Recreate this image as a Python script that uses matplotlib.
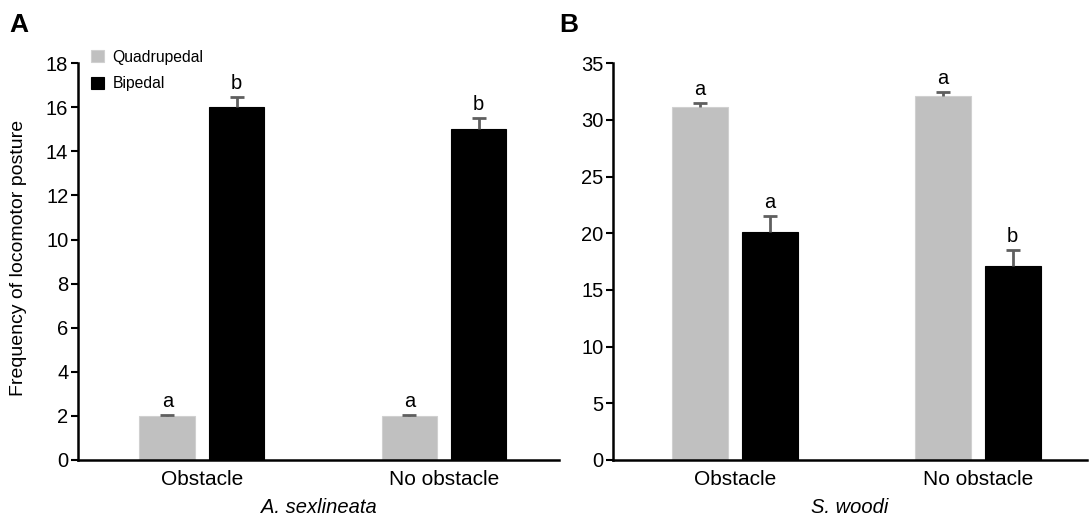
import numpy as np
import matplotlib
matplotlib.use("Agg")
import matplotlib.pyplot as plt

plt.rcParams['font.family'] = ['Liberation Sans', 'DejaVu Sans']

conditions = ["Obstacle", "No obstacle"]
postures = ["Quadrupedal", "Bipedal"]

# A. sexlineata
a_quad = [2.0, 2.0]
a_quad_err = [0.05, 0.05]
a_bip = [16.0, 15.0]
a_bip_err = [0.45, 0.5]
a_quad_letters = ["a", "a"]
a_bip_letters = ["b", "b"]

# S. woodi
s_quad = [31.1, 32.1]
s_quad_err = [0.4, 0.35]
s_bip = [20.1, 17.1]
s_bip_err = [1.45, 1.4]
s_quad_letters = ["a", "a"]
s_bip_letters = ["a", "b"]

GRAY = "#c0c0c0"
ERRC = "#5f5f5f"

fig = plt.figure(figsize=(10.89, 5.18), dpi=100)
axA = fig.add_axes([0.0716, 0.112, 0.4417, 0.766])
axB = fig.add_axes([0.5629, 0.112, 0.4353, 0.766])


def panel(ax, quad, quad_err, bip, bip_err, ql, bl, ymax, ystep, xlim, species):
    x = np.arange(len(conditions))
    off, w = 0.143, 0.23
    ax.bar(x - off, quad, w, color=GRAY, edgecolor="#d0d0d0", linewidth=0.8,
           label=postures[0], zorder=2)
    ax.bar(x + off, bip, w, color="black", edgecolor="black", linewidth=0.8,
           label=postures[1], zorder=2)
    for xs, vals, errs, lets in [(x - off, quad, quad_err, ql), (x + off, bip, bip_err, bl)]:
        eb = ax.errorbar(xs, vals, yerr=[np.zeros(len(errs)), errs], fmt="none",
                         ecolor=ERRC, elinewidth=2, capsize=5, capthick=2, zorder=3)
        eb[1][0].set_visible(False)  # only the upper cap
        for xi, v, e, t in zip(xs, vals, errs, lets):
            ax.annotate(t, (xi, v + e), xytext=(0, 3), textcoords="offset points",
                        ha="center", va="bottom", fontsize=14.5)
    ax.set_ylim(0, ymax)
    ax.set_yticks(np.arange(0, ymax + 0.1, ystep))
    ax.set_xlim(*xlim)
    ax.set_xticks(x)
    ax.set_xticklabels(conditions, fontsize=15)
    ax.tick_params(axis="x", length=0, pad=7)
    ax.tick_params(axis="y", labelsize=14.5, width=1.5, length=5, pad=2)
    ax.spines["top"].set_visible(False)
    ax.spines["right"].set_visible(False)
    ax.spines["left"].set_linewidth(1.8)
    ax.spines["bottom"].set_linewidth(1.8)
    ax.set_xlabel(species, fontsize=14.5, style="italic", labelpad=7)


panel(axA, a_quad, a_quad_err, a_bip, a_bip_err, a_quad_letters, a_bip_letters,
      18, 2, (-0.512, 1.475), "A. sexlineata")
panel(axB, s_quad, s_quad_err, s_bip, s_bip_err, s_quad_letters, s_bip_letters,
      35, 5, (-0.502, 1.449), "S. woodi")

axA.set_ylabel("Frequency of locomotor posture", fontsize=14)
axA.yaxis.set_label_coords(-0.106, 0.51)
axA.legend(loc="upper left", bbox_to_anchor=(-0.002, 1.07), frameon=False,
           fontsize=11.3, handlelength=0.85, handleheight=0.85, handletextpad=0.5,
           labelspacing=0.75)

fig.text(0.009, 0.975, "A", fontsize=19, fontweight="bold", va="top")
fig.text(0.514, 0.975, "B", fontsize=19, fontweight="bold", va="top")

fig.savefig("out.png", dpi=100)
